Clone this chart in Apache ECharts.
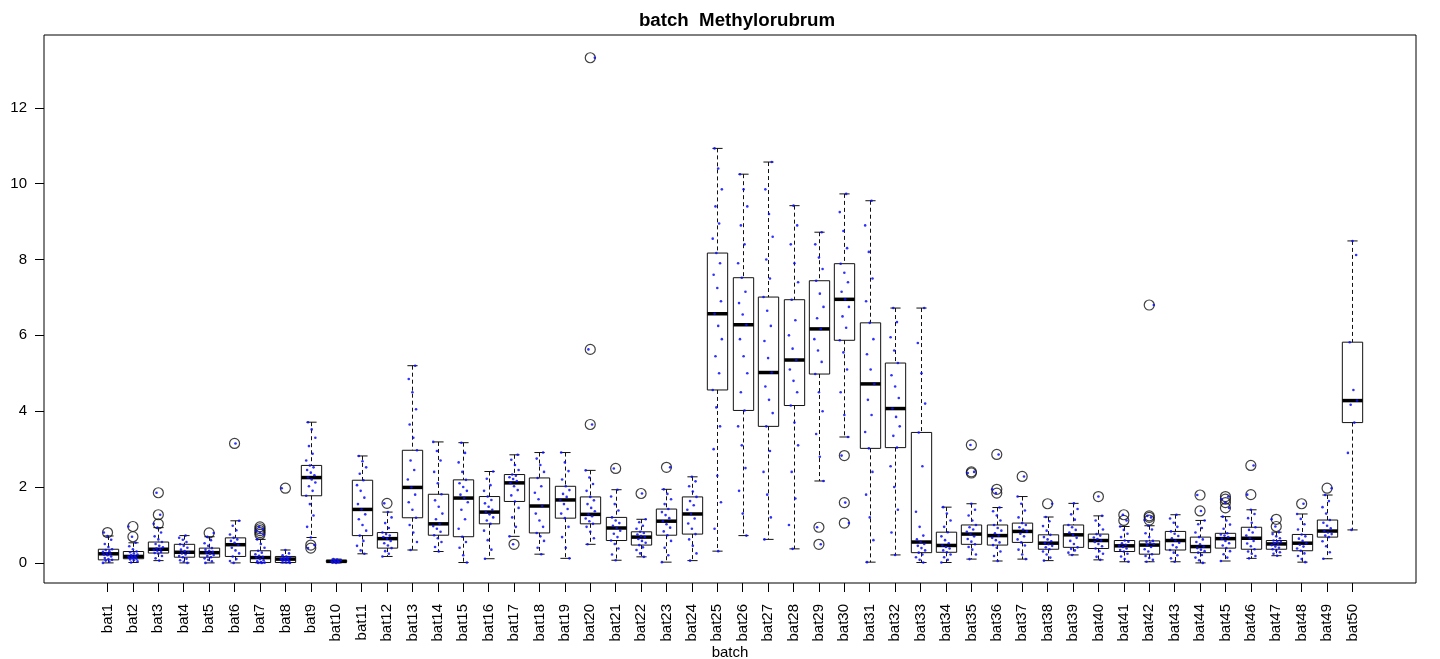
<!DOCTYPE html>
<html>
<head>
<meta charset="utf-8">
<title>batch Methylorubrum</title>
<script src="https://cdn.jsdelivr.net/npm/echarts@6/dist/echarts.min.js"></script>
<style>
  html, body { margin: 0; padding: 0; background: #fff; }
  #chart { width: 1440px; height: 659px; }
</style>
</head>
<body>
<div id="chart"></div>
<script>
// Category labels along the x axis
const batches = ['bat1','bat2','bat3','bat4','bat5','bat6','bat7','bat8','bat9','bat10',
  'bat11','bat12','bat13','bat14','bat15','bat16','bat17','bat18','bat19','bat20',
  'bat21','bat22','bat23','bat24','bat25','bat26','bat27','bat28','bat29','bat30',
  'bat31','bat32','bat33','bat34','bat35','bat36','bat37','bat38','bat39','bat40',
  'bat41','bat42','bat43','bat44','bat45','bat46','bat47','bat48','bat49','bat50'];

// Y axis tick labels
const yTicks = [0, 2, 4, 6, 8, 10, 12];

// Five-number summaries per batch
const whiskerLow = [0.00,0.01,0.06,0.00,0.00,0.00,0.00,0.00,0.67,0.00,
  0.24,0.17,0.34,0.30,0.01,0.11,0.70,0.23,0.12,0.49,
  0.07,0.16,0.02,0.06,0.31,0.72,0.62,0.37,2.16,3.32,
  0.02,0.21,0.01,0.01,0.10,0.05,0.10,0.06,0.21,0.08,
  0.03,0.03,0.03,0.00,0.05,0.12,0.19,0.02,0.11,0.87];
const hingeLow = [0.08,0.11,0.26,0.15,0.15,0.17,0.01,0.01,1.77,0.02,
  0.72,0.39,1.19,0.73,0.69,1.03,1.62,0.79,1.18,1.03,
  0.59,0.47,0.73,0.76,4.56,4.02,3.60,4.15,4.98,5.87,
  3.02,3.04,0.27,0.28,0.49,0.47,0.54,0.36,0.41,0.38,
  0.30,0.23,0.34,0.27,0.39,0.36,0.36,0.32,0.68,3.70];
const medians = [0.24,0.17,0.36,0.28,0.27,0.48,0.14,0.10,2.25,0.04,
  1.41,0.64,1.99,1.03,1.71,1.34,2.11,1.50,1.66,1.28,
  0.92,0.68,1.10,1.29,6.57,6.28,5.02,5.35,6.17,6.95,
  4.72,4.07,0.55,0.46,0.76,0.72,0.83,0.52,0.74,0.59,
  0.45,0.47,0.59,0.43,0.64,0.65,0.50,0.52,0.84,4.28];
const hingeHigh = [0.36,0.30,0.55,0.49,0.39,0.66,0.32,0.17,2.57,0.07,
  2.18,0.80,2.97,1.81,2.19,1.75,2.33,2.24,2.02,1.74,
  1.20,0.82,1.42,1.74,8.17,7.52,7.01,6.94,7.44,7.89,
  6.33,5.27,3.44,0.81,1.00,1.00,1.05,0.74,1.00,0.76,
  0.59,0.58,0.83,0.68,0.78,0.94,0.59,0.75,1.13,5.82];
const whiskerHigh = [0.71,0.53,0.93,0.72,0.69,1.11,0.62,0.34,3.71,0.10,
  2.82,1.34,5.20,3.19,3.17,2.41,2.85,2.91,2.91,2.44,
  1.93,1.15,1.94,2.27,10.93,10.25,10.57,9.42,8.72,9.73,
  9.55,6.72,6.72,1.47,1.56,1.46,1.75,1.21,1.57,1.24,
  0.96,0.98,1.27,1.12,1.22,1.40,0.81,1.29,1.79,8.49];

// Values beyond the whiskers
const outliers = [
  [0.80],[0.69,0.96],[1.03,1.27,1.85],[],[0.79],[3.15],[0.75,0.80,0.85,0.90,0.95],[1.97],[0.39,0.47],[],
  [],[1.57],[],[],[],[],[0.49],[],[],[3.65,5.63,13.32],
  [2.49],[1.83],[2.52],[],[],[],[],[],[0.49,0.94],[1.05,1.59,2.83],
  [],[],[],[],[2.37,2.40,3.11],[1.84,1.94,2.86],[2.28],[1.56],[],[1.75],
  [1.12,1.27],[1.13,1.20,1.24,6.80],[],[1.37,1.79],[1.45,1.59,1.68,1.75],[1.80,2.57],[0.96,1.15],[1.56],[1.97],[]
];

// Individual observations per batch (overlaid as jittered points)
const observations = [
  [0.00,0.03,0.06,0.08,0.10,0.13,0.17,0.20,0.22,0.24,0.26,0.29,0.31,0.34,0.36,0.42,0.50,0.61,0.71,0.80],
  [0.01,0.04,0.07,0.09,0.11,0.12,0.14,0.15,0.16,0.17,0.18,0.20,0.22,0.25,0.28,0.30,0.36,0.44,0.53,0.69,0.96],
  [0.06,0.12,0.18,0.24,0.26,0.29,0.32,0.34,0.36,0.38,0.41,0.45,0.50,0.55,0.62,0.70,0.80,0.93,1.03,1.27,1.85],
  [0.00,0.03,0.07,0.11,0.15,0.18,0.22,0.25,0.28,0.31,0.35,0.40,0.45,0.49,0.55,0.61,0.66,0.72],
  [0.00,0.04,0.08,0.12,0.15,0.18,0.21,0.24,0.27,0.29,0.32,0.35,0.39,0.45,0.52,0.60,0.69,0.79],
  [0.00,0.05,0.10,0.17,0.25,0.33,0.40,0.48,0.53,0.58,0.62,0.66,0.75,0.86,0.98,1.11,3.15],
  [0.00,0.00,0.01,0.02,0.04,0.07,0.10,0.14,0.16,0.19,0.23,0.27,0.32,0.40,0.50,0.62,0.75,0.80,0.85,0.90,0.95],
  [0.00,0.01,0.02,0.04,0.06,0.08,0.09,0.10,0.11,0.12,0.13,0.15,0.17,0.20,0.25,0.34,1.97],
  [0.39,0.47,0.67,0.95,1.25,1.55,1.77,1.90,2.02,2.12,2.20,2.25,2.31,2.38,2.45,2.52,2.57,2.70,2.88,3.08,3.30,3.52,3.71],
  [0.00,0.01,0.02,0.03,0.04,0.05,0.06,0.07,0.09,0.10],
  [0.24,0.33,0.45,0.58,0.72,0.85,1.00,1.15,1.28,1.41,1.55,1.72,1.90,2.05,2.18,2.35,2.52,2.68,2.82],
  [0.17,0.24,0.31,0.39,0.46,0.52,0.58,0.64,0.68,0.72,0.76,0.80,0.92,1.05,1.20,1.34,1.57],
  [0.34,0.55,0.80,1.00,1.19,1.40,1.60,1.80,1.99,2.20,2.45,2.70,2.97,3.30,3.65,4.05,4.50,4.85,5.20],
  [0.30,0.42,0.55,0.65,0.73,0.82,0.90,0.97,1.03,1.15,1.30,1.48,1.65,1.81,2.10,2.40,2.70,2.95,3.19],
  [0.01,0.20,0.40,0.55,0.69,0.90,1.15,1.40,1.60,1.71,1.80,1.90,2.00,2.10,2.19,2.40,2.65,2.90,3.17],
  [0.11,0.35,0.60,0.85,1.03,1.12,1.20,1.28,1.34,1.40,1.48,1.57,1.66,1.75,1.90,2.05,2.22,2.41],
  [0.49,0.70,0.95,1.20,1.45,1.62,1.78,1.92,2.02,2.11,2.16,2.21,2.26,2.30,2.33,2.45,2.58,2.72,2.85],
  [0.23,0.40,0.58,0.70,0.79,0.95,1.12,1.30,1.50,1.68,1.85,2.02,2.24,2.40,2.58,2.75,2.91],
  [0.12,0.40,0.68,0.95,1.18,1.30,1.42,1.55,1.66,1.74,1.82,1.92,2.02,2.20,2.42,2.65,2.91],
  [0.49,0.65,0.82,0.95,1.03,1.10,1.17,1.23,1.28,1.36,1.45,1.55,1.65,1.74,1.90,2.08,2.25,2.44,3.65,5.63,13.32],
  [0.07,0.22,0.38,0.50,0.59,0.68,0.77,0.85,0.92,0.98,1.05,1.12,1.20,1.38,1.55,1.75,1.93,2.49],
  [0.16,0.25,0.34,0.41,0.47,0.53,0.58,0.63,0.68,0.71,0.75,0.79,0.82,0.90,0.98,1.07,1.15,1.83],
  [0.02,0.20,0.40,0.58,0.73,0.83,0.93,1.02,1.10,1.18,1.26,1.34,1.42,1.55,1.68,1.82,1.94,2.52],
  [0.06,0.25,0.45,0.62,0.76,0.90,1.04,1.17,1.29,1.40,1.52,1.63,1.74,1.88,2.02,2.15,2.27],
  [0.31,0.90,1.60,2.30,3.00,3.60,4.10,4.56,5.00,5.45,5.90,6.25,6.57,6.90,7.25,7.60,7.90,8.17,8.55,8.95,9.40,9.85,10.40,10.93],
  [0.72,1.30,1.90,2.50,3.10,3.60,4.02,4.50,5.00,5.45,5.90,6.28,6.55,6.85,7.15,7.52,7.90,8.40,8.90,9.40,9.85,10.25],
  [0.62,1.20,1.80,2.40,2.95,3.60,3.95,4.30,4.65,5.02,5.40,5.85,6.25,6.65,7.01,7.50,8.00,8.60,9.20,9.85,10.57],
  [0.37,1.00,1.70,2.40,3.10,3.70,4.15,4.50,4.80,5.10,5.35,5.65,6.00,6.40,6.94,7.40,7.90,8.40,8.90,9.42],
  [0.49,0.94,2.16,2.80,3.40,4.00,4.50,4.98,5.30,5.60,5.90,6.17,6.45,6.75,7.10,7.44,7.75,8.05,8.40,8.72],
  [1.05,1.59,2.83,3.32,3.90,4.50,5.10,5.55,5.87,6.20,6.50,6.75,6.95,7.15,7.40,7.65,7.89,8.30,8.75,9.25,9.73],
  [0.02,0.60,1.20,1.80,2.40,3.02,3.45,3.90,4.30,4.72,5.10,5.50,5.90,6.33,6.90,7.50,8.20,8.90,9.55],
  [0.21,0.80,1.40,2.00,2.55,3.04,3.35,3.60,3.85,4.07,4.35,4.65,4.95,5.27,5.60,5.95,6.35,6.72],
  [0.01,0.08,0.15,0.22,0.27,0.33,0.39,0.45,0.50,0.55,0.62,0.72,0.95,1.35,2.55,3.44,4.20,5.00,5.80,6.72],
  [0.01,0.08,0.15,0.22,0.28,0.33,0.38,0.42,0.46,0.52,0.60,0.70,0.81,0.95,1.12,1.30,1.47],
  [0.10,0.22,0.35,0.42,0.49,0.56,0.63,0.70,0.76,0.82,0.88,0.94,1.00,1.12,1.25,1.40,1.56,2.37,2.40,3.11],
  [0.05,0.18,0.30,0.40,0.47,0.54,0.60,0.66,0.72,0.78,0.85,0.92,1.00,1.12,1.25,1.36,1.46,1.84,1.94,2.86],
  [0.10,0.22,0.35,0.46,0.54,0.62,0.70,0.77,0.83,0.88,0.94,1.00,1.05,1.20,1.38,1.56,1.75,2.28],
  [0.06,0.14,0.22,0.30,0.36,0.41,0.45,0.49,0.52,0.57,0.62,0.68,0.74,0.85,0.97,1.10,1.21,1.56],
  [0.21,0.27,0.33,0.37,0.41,0.50,0.58,0.66,0.74,0.80,0.87,0.94,1.00,1.14,1.28,1.42,1.57],
  [0.08,0.16,0.24,0.31,0.38,0.44,0.50,0.55,0.59,0.63,0.67,0.72,0.76,0.88,1.00,1.12,1.24,1.75],
  [0.03,0.10,0.17,0.24,0.30,0.34,0.38,0.42,0.45,0.48,0.52,0.56,0.59,0.68,0.77,0.87,0.96,1.12,1.27],
  [0.03,0.08,0.13,0.18,0.23,0.30,0.36,0.42,0.47,0.50,0.53,0.56,0.58,0.68,0.78,0.88,0.98,1.13,1.20,1.24,6.80],
  [0.03,0.12,0.20,0.27,0.34,0.41,0.47,0.53,0.59,0.65,0.71,0.77,0.83,0.95,1.06,1.17,1.27],
  [0.00,0.07,0.14,0.21,0.27,0.31,0.35,0.39,0.43,0.49,0.55,0.62,0.68,0.80,0.92,1.02,1.12,1.37,1.79],
  [0.05,0.14,0.23,0.31,0.39,0.46,0.52,0.58,0.64,0.68,0.72,0.75,0.78,0.90,1.01,1.12,1.22,1.45,1.59,1.68,1.75],
  [0.12,0.18,0.24,0.30,0.36,0.44,0.51,0.58,0.65,0.72,0.80,0.87,0.94,1.06,1.18,1.29,1.40,1.80,2.57],
  [0.19,0.24,0.28,0.32,0.36,0.40,0.43,0.47,0.50,0.52,0.55,0.57,0.59,0.65,0.70,0.76,0.81,0.96,1.15],
  [0.02,0.10,0.18,0.25,0.32,0.38,0.43,0.48,0.52,0.58,0.64,0.70,0.75,0.88,1.02,1.16,1.29,1.56],
  [0.11,0.28,0.44,0.57,0.68,0.72,0.76,0.80,0.84,0.91,0.98,1.06,1.13,1.30,1.47,1.63,1.79,1.97],
  [0.87,2.90,3.70,4.17,4.28,4.56,5.82,8.12,8.49]
];

const FONT = '"Liberation Sans", Arial, Helvetica, sans-serif';
const positions = batches.map((_, i) => i + 1);

const boxData = batches.map((_, i) =>
  [i + 1, whiskerLow[i], hingeLow[i], medians[i], hingeHigh[i], whiskerHigh[i]]);

const outlierData = [];
outliers.forEach((list, i) => list.forEach(v => outlierData.push([i + 1, v])));

// small horizontal spread so overlapping observations stay visible
function spread(j, i) {
  return (((j * 7 + i * 3) % 11) / 10 - 0.5) * 0.36;
}
const pointData = [];
observations.forEach((list, i) =>
  list.forEach((v, j) => pointData.push([i + 1 + spread(j, i), v])));

function renderBox(params, api) {
  const x = api.value(0);
  const lo = api.coord([x, api.value(1)]);
  const q1 = api.coord([x, api.value(2)]);
  const md = api.coord([x, api.value(3)]);
  const q3 = api.coord([x, api.value(4)]);
  const hi = api.coord([x, api.value(5)]);
  const unit = api.size([1, 0])[0];
  const half = unit * 0.4;
  const cap = unit * 0.2;
  const cx = Math.round(lo[0]) + 0.5;
  const ink = '#111';
  const dash = { stroke: ink, lineWidth: 1, lineDash: [4, 3] };
  const solid = { stroke: ink, lineWidth: 1 };
  return {
    type: 'group',
    children: [
      { type: 'line', shape: { x1: cx, y1: hi[1], x2: cx, y2: q3[1] }, style: dash },
      { type: 'line', shape: { x1: cx, y1: q1[1], x2: cx, y2: lo[1] }, style: dash },
      { type: 'line', shape: { x1: cx - cap, y1: hi[1], x2: cx + cap, y2: hi[1] }, style: solid },
      { type: 'line', shape: { x1: cx - cap, y1: lo[1], x2: cx + cap, y2: lo[1] }, style: solid },
      { type: 'rect', shape: { x: cx - half, y: q3[1], width: half * 2, height: q1[1] - q3[1] },
        style: { fill: 'rgba(0,0,0,0)', stroke: ink, lineWidth: 1 } },
      { type: 'line', shape: { x1: cx - half, y1: md[1], x2: cx + half, y2: md[1] },
        style: { stroke: '#000', lineWidth: 3.5, lineCap: 'butt' } }
    ]
  };
}

const chart = echarts.init(document.getElementById('chart'), null, { renderer: 'canvas' });
chart.setOption({
  animation: false,
  backgroundColor: '#fff',
  title: {
    text: 'batch  Methylorubrum',
    left: 732, top: 6, textAlign: 'center',
    textStyle: { fontFamily: FONT, fontSize: 18.7, fontWeight: 'bold', color: '#000' }
  },
  grid: {
    left: 44, right: 24, top: 35, bottom: 76,
    outerBoundsMode: 'none', containLabel: false,
    show: true, borderColor: '#000', borderWidth: 1, backgroundColor: 'transparent'
  },
  xAxis: {
    type: 'value', min: -1.5, max: 52.5,
    axisLine: { show: false, onZero: false },
    splitLine: { show: false },
    axisTick: { show: true, customValues: positions, length: 9, lineStyle: { color: '#000', width: 1 } },
    axisLabel: {
      customValues: positions, rotate: 90, margin: 21,
      formatter: v => batches[Math.round(v) - 1] || '',
      fontFamily: FONT, fontSize: 15, color: '#000'
    },
    name: 'batch', nameLocation: 'middle', nameGap: 62, nameMoveOverlap: false,
    nameTextStyle: { fontFamily: FONT, fontSize: 15, color: '#000' }
  },
  yAxis: {
    type: 'value', min: -0.53, max: 13.92,
    axisLine: { show: false, onZero: false },
    splitLine: { show: false },
    axisTick: { show: true, customValues: yTicks, length: 9, lineStyle: { color: '#000', width: 1 } },
    axisLabel: {
      customValues: yTicks, margin: 17,
      fontFamily: FONT, fontSize: 15, color: '#000'
    }
  },
  series: [
    {
      type: 'custom', name: 'box', renderItem: renderBox,
      data: boxData, encode: { x: 0, y: [1, 2, 3, 4, 5] }, z: 2
    },
    {
      type: 'scatter', name: 'outliers', data: outlierData,
      symbol: 'circle', symbolSize: 10,
      itemStyle: { color: 'rgba(0,0,0,0)', borderColor: '#111', borderWidth: 1.2 }, z: 3
    },
    {
      type: 'scatter', name: 'points', data: pointData,
      symbol: 'circle', symbolSize: 2.6,
      itemStyle: { color: '#0c0cff', opacity: 0.85 }, z: 4
    }
  ]
});
</script>
</body>
</html>
